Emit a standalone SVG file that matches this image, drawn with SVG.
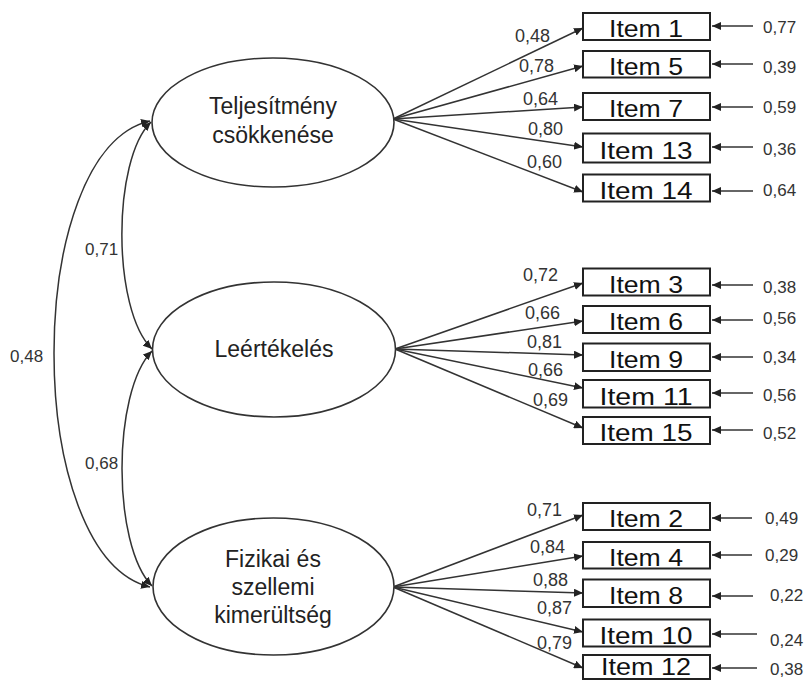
<svg xmlns="http://www.w3.org/2000/svg" width="807" height="680" viewBox="0 0 807 680">
<defs>
<marker id="ah" markerUnits="userSpaceOnUse" markerWidth="10" markerHeight="8" refX="9" refY="4" orient="auto-start-reverse">
<path d="M0,0 L9,4 L0,8 Z" fill="#222"/>
</marker>
<style>
.bg{fill:#fff}
.lat{fill:#fff;stroke:#333;stroke-width:1.6}
.box{fill:#fff;stroke:#222;stroke-width:2}
.ltxt{font-family:"Liberation Sans",Arial,sans-serif;font-size:23px;fill:#222;text-anchor:middle}
.itxt{font-family:"Liberation Sans",Arial,sans-serif;font-size:24px;fill:#111;text-anchor:middle}
.num{font-family:"Liberation Sans",Arial,sans-serif;font-size:18px;fill:#333}
.err{font-family:"Liberation Sans",Arial,sans-serif;font-size:17px;fill:#333}
.ln{fill:none;stroke:#333;stroke-width:1.5;marker-end:url(#ah)}
.cov{fill:none;stroke:#333;stroke-width:1.5;marker-start:url(#ah);marker-end:url(#ah)}
</style>
</defs>
<rect class="bg" x="0" y="0" width="807" height="680"/>

<g id="connectors">
<path class="cov" d="M151,122 C112,160 112,310 152,349"/>
<path class="cov" d="M152,351 C112,392 112,545 152,586"/>
<path class="cov" d="M150,121 C22,150 22,556 150,587"/>
<line class="ln" x1="393" y1="119" x2="583" y2="28"/>
<line class="ln" x1="393" y1="119" x2="583" y2="66"/>
<line class="ln" x1="393" y1="119" x2="583" y2="107"/>
<line class="ln" x1="393" y1="119" x2="583" y2="147"/>
<line class="ln" x1="393" y1="119" x2="583" y2="192"/>
<line class="ln" x1="395" y1="349" x2="583" y2="283"/>
<line class="ln" x1="395" y1="349" x2="583" y2="321"/>
<line class="ln" x1="395" y1="349" x2="583" y2="355"/>
<line class="ln" x1="395" y1="349" x2="583" y2="388"/>
<line class="ln" x1="395" y1="349" x2="583" y2="428"/>
<line class="ln" x1="393" y1="587" x2="583" y2="515"/>
<line class="ln" x1="393" y1="587" x2="583" y2="556"/>
<line class="ln" x1="393" y1="587" x2="583" y2="593"/>
<line class="ln" x1="393" y1="587" x2="583" y2="632"/>
<line class="ln" x1="393" y1="587" x2="583" y2="668"/>
<line class="ln" x1="753" y1="26" x2="712" y2="26"/>
<line class="ln" x1="753" y1="64" x2="712" y2="64"/>
<line class="ln" x1="753" y1="107" x2="712" y2="107"/>
<line class="ln" x1="753" y1="147" x2="712" y2="147"/>
<line class="ln" x1="753" y1="191" x2="712" y2="191"/>
<line class="ln" x1="753" y1="285" x2="712" y2="285"/>
<line class="ln" x1="753" y1="320" x2="712" y2="320"/>
<line class="ln" x1="753" y1="357" x2="712" y2="357"/>
<line class="ln" x1="753" y1="393" x2="712" y2="393"/>
<line class="ln" x1="753" y1="430" x2="712" y2="430"/>
<line class="ln" x1="752" y1="518" x2="712" y2="518"/>
<line class="ln" x1="752" y1="555" x2="712" y2="555"/>
<line class="ln" x1="753" y1="596" x2="712" y2="596"/>
<line class="ln" x1="757" y1="634" x2="712" y2="634"/>
<line class="ln" x1="757" y1="668" x2="712" y2="668"/>
<text class="num" x="515" y="42">0,48</text>
<text class="num" x="519" y="72">0,78</text>
<text class="num" x="523" y="105">0,64</text>
<text class="num" x="528" y="135">0,80</text>
<text class="num" x="527" y="168">0,60</text>
<text class="num" x="523" y="281">0,72</text>
<text class="num" x="525" y="319">0,66</text>
<text class="num" x="527" y="348">0,81</text>
<text class="num" x="528" y="376">0,66</text>
<text class="num" x="533" y="406">0,69</text>
<text class="num" x="527" y="516">0,71</text>
<text class="num" x="530" y="553">0,84</text>
<text class="num" x="533" y="586">0,88</text>
<text class="num" x="537" y="614">0,87</text>
<text class="num" x="537" y="649">0,79</text>
<text class="err" x="763" y="33">0,77</text>
<text class="err" x="763" y="73">0,39</text>
<text class="err" x="763" y="113">0,59</text>
<text class="err" x="763" y="155">0,36</text>
<text class="err" x="763" y="196">0,64</text>
<text class="err" x="763" y="293">0,38</text>
<text class="err" x="763" y="324">0,56</text>
<text class="err" x="763" y="363">0,34</text>
<text class="err" x="763" y="401">0,56</text>
<text class="err" x="763" y="439">0,52</text>
<text class="err" x="765" y="524">0,49</text>
<text class="err" x="765" y="561">0,29</text>
<text class="err" x="770" y="601">0,22</text>
<text class="err" x="770" y="646">0,24</text>
<text class="err" x="770" y="675">0,38</text>
<text class="err" x="85" y="255">0,71</text>
<text class="err" x="85" y="469">0,68</text>
<text class="err" x="10" y="362">0,48</text>
</g>

<g id="f1">
<ellipse class="lat" cx="273" cy="122.5" rx="121" ry="64.5"/>
<text class="ltxt" x="273" y="114">Teljesítmény</text>
<text class="ltxt" x="273" y="143">csökkenése</text>
</g>
<g id="f2">
<ellipse class="lat" cx="274" cy="349.5" rx="121.5" ry="67.5"/>
<text class="ltxt" x="274" y="357">Leértékelés</text>
</g>
<g id="f3">
<ellipse class="lat" cx="273.5" cy="586.5" rx="120.5" ry="68.5"/>
<text class="ltxt" x="273" y="567">Fizikai és</text>
<text class="ltxt" x="273" y="595">szellemi</text>
<text class="ltxt" x="273" y="623">kimerültség</text>
</g>

<g id="item1"><rect class="box" x="583" y="13" width="127" height="27"/><text class="itxt" x="646" y="37" textLength="74" lengthAdjust="spacingAndGlyphs">Item 1</text></g>
<g id="item5"><rect class="box" x="583" y="51" width="127" height="26.5"/><text class="itxt" x="646" y="74.5" textLength="74" lengthAdjust="spacingAndGlyphs">Item 5</text></g>
<g id="item7"><rect class="box" x="583" y="93" width="127" height="27"/><text class="itxt" x="646" y="117" textLength="74" lengthAdjust="spacingAndGlyphs">Item 7</text></g>
<g id="item13"><rect class="box" x="583" y="133.5" width="127" height="29"/><text class="itxt" x="646" y="158.5" textLength="93" lengthAdjust="spacingAndGlyphs">Item 13</text></g>
<g id="item14"><rect class="box" x="583" y="174.5" width="127" height="27"/><text class="itxt" x="646" y="198.5" textLength="93" lengthAdjust="spacingAndGlyphs">Item 14</text></g>

<g id="item3"><rect class="box" x="583" y="268.5" width="127" height="27"/><text class="itxt" x="646" y="292.5" textLength="74" lengthAdjust="spacingAndGlyphs">Item 3</text></g>
<g id="item6"><rect class="box" x="583" y="306" width="127" height="27"/><text class="itxt" x="646" y="330" textLength="74" lengthAdjust="spacingAndGlyphs">Item 6</text></g>
<g id="item9"><rect class="box" x="583" y="343.5" width="127" height="27.5"/><text class="itxt" x="646" y="368" textLength="74" lengthAdjust="spacingAndGlyphs">Item 9</text></g>
<g id="item11"><rect class="box" x="583" y="380" width="127" height="27.5"/><text class="itxt" x="646" y="404.5" textLength="93" lengthAdjust="spacingAndGlyphs">Item 11</text></g>
<g id="item15"><rect class="box" x="583" y="417" width="127" height="27"/><text class="itxt" x="646" y="441" textLength="93" lengthAdjust="spacingAndGlyphs">Item 15</text></g>

<g id="item2"><rect class="box" x="583" y="503" width="127" height="27"/><text class="itxt" x="646" y="527" textLength="74" lengthAdjust="spacingAndGlyphs">Item 2</text></g>
<g id="item4"><rect class="box" x="583" y="542" width="127" height="26.5"/><text class="itxt" x="646" y="565.5" textLength="74" lengthAdjust="spacingAndGlyphs">Item 4</text></g>
<g id="item8"><rect class="box" x="583" y="579.5" width="127" height="27.5"/><text class="itxt" x="646" y="604" textLength="74" lengthAdjust="spacingAndGlyphs">Item 8</text></g>
<g id="item10"><rect class="box" x="583" y="619.5" width="127" height="27"/><text class="itxt" x="646" y="643.5" textLength="93" lengthAdjust="spacingAndGlyphs">Item 10</text></g>
<g id="item12"><rect class="box" x="583" y="655" width="127" height="24"/><text class="itxt" x="646" y="675" font-size="22" textLength="90" lengthAdjust="spacingAndGlyphs">Item 12</text></g>
</svg>
